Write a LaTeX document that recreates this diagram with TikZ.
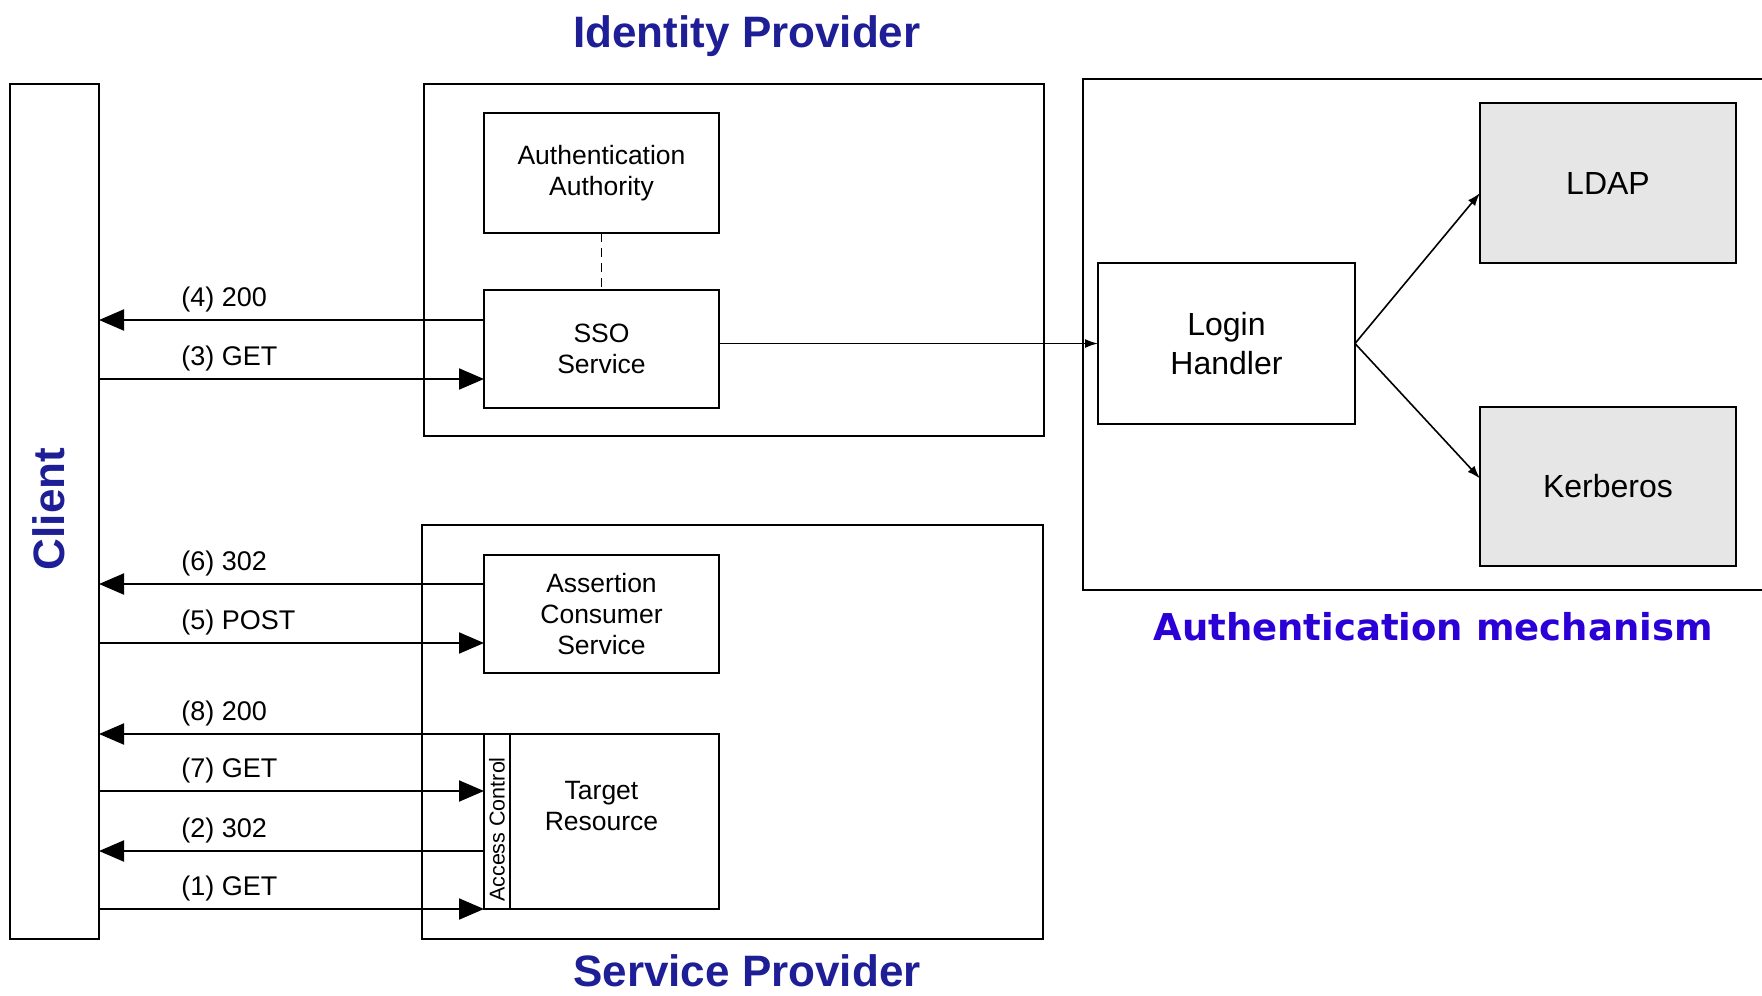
\documentclass[tikz,border=0pt]{standalone}
\usepackage{fontspec}
\setmainfont{Liberation Sans}
\newfontfamily\markfont{DejaVu Sans}
\usetikzlibrary{arrows.meta,calc}
\definecolor{TitleNavy}{HTML}{1E1E96}
\definecolor{TitleViolet}{HTML}{2A00D6}
\definecolor{StoreGray}{HTML}{E6E6E6}
\tikzset{
  every node/.style={text=black},
  zone/.style={draw=black, line width=1.8pt},
  component/.style={draw=black, line width=1.8pt, outer sep=0pt, inner sep=0pt, align=center, font=\fontsize{26.5}{31}\selectfont},
  backend/.style={component, line width=2.6pt, fill=StoreGray, font=\fontsize{32}{39}\selectfont},
  title/.style={inner sep=0pt, font=\fontsize{44}{50}\selectfont\bfseries, text=TitleNavy},
  message/.style={-{Triangle[length=25pt,width=21pt]}, line width=2pt},
  call/.style={-{Latex[length=13pt,width=9pt]}, line width=1.6pt},
  msglabel/.style={anchor=base west, xshift=78pt, yshift=14pt, font=\fontsize{27}{30}\selectfont},
}

\begin{document}
\begin{tikzpicture}[x=1pt,y=-1pt]
  \useasboundingbox (0,0) rectangle (1762,996);
  % Client lane
  \node[component, minimum width=89pt, minimum height=855pt] (client) at (54.5,511.5) {};
  \node[title, rotate=90] at (49,509) {Client};
  % Identity provider
  \draw[zone] (424,84) rectangle (1044,436);
  \node[title] at (747,36) {Identity Provider};
  \node[component, minimum width=235pt, minimum height=120pt] (authority) at (601.5,173) {Authentication\\Authority};
  \node[component, minimum width=235pt, minimum height=118pt] (sso) at (601.5,349) {SSO\\Service};
  \draw[dash pattern=on 9pt off 6pt, line width=1.4pt] (authority.south) -- (sso.north);
  % Service provider
  \draw[zone] (422,525) rectangle (1043,939);
  \node[title] at (747,971) {Service Provider};
  \node[component, minimum width=235pt, minimum height=118pt] (acs) at (601.5,614) {Assertion\\Consumer\\Service};
  \node[component, minimum width=235pt, minimum height=175pt] (target) at (601.5,821.5) {};
  \node[align=center, font=\fontsize{26.5}{31}\selectfont] at (601.5,806) {Target\\Resource};
  \node[component, minimum width=26pt, minimum height=175pt] (acl) at (497,821.5) {};
  \node[rotate=90, font=\fontsize{21.5}{24}\selectfont] at ([yshift=-8pt]acl.center) {Access Control};
  % Authentication mechanism
  \draw[zone, line width=2.2pt] (1762,79) -- (1083,79) -- (1083,590) -- (1762,590);
  \node[font=\markfont\fontsize{37}{42}\selectfont\bfseries, text=TitleViolet] at (1433,627) {Authentication mechanism};
  \node[component, line width=2.6pt, minimum width=257pt, minimum height=161pt, font=\fontsize{32}{39}\selectfont] (login) at (1226.5,343.5) {Login\\Handler};
  \node[backend, minimum width=256pt, minimum height=160pt] (ldap) at (1608,183) {LDAP};
  \node[backend, minimum width=256pt, minimum height=159pt] (kerb) at (1608,486.5) {Kerberos};

  % Message end points
  \coordinate (r4) at ($(sso.west)+(0,-29)$);
  \coordinate (q3) at ($(sso.west)+(0,30)$);
  \coordinate (r6) at ($(acs.west)+(0,-30)$);
  \coordinate (q5) at ($(acs.west)+(0,29)$);
  \coordinate (q7) at ($(acl.west)+(0,-30.5)$);
  \coordinate (r2) at ($(acl.west)+(0,29.5)$);

  % Browser messages
  \draw[message] (r4) -- (r4 -| client.east) node[msglabel] {(4) 200};
  \draw[message] (q3 -| client.east) node[msglabel] {(3) GET} -- (q3);
  \draw[message] (r6) -- (r6 -| client.east) node[msglabel] {(6) 302};
  \draw[message] (q5 -| client.east) node[msglabel] {(5) POST} -- (q5);
  \draw[message] (target.north east) -- (target.north east -| client.east) node[msglabel] {(8) 200};
  \draw[message] (q7 -| client.east) node[msglabel] {(7) GET} -- (q7);
  \draw[message] (r2) -- (r2 -| client.east) node[msglabel] {(2) 302};
  \draw[message] (acl.south west -| client.east) node[msglabel] {(1) GET} -- (acl.south west);

  % Login flow
  \draw[call] (sso.east |- login.west) -- (login.west);
  \draw[call] (login.east) -- ([yshift=-10pt]ldap.west);
  \draw[call] (login.east) -- ([yshift=8pt]kerb.west);
\end{tikzpicture}
\end{document}
